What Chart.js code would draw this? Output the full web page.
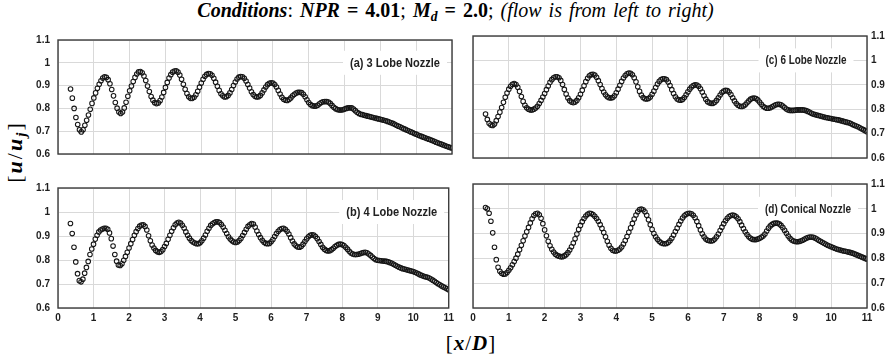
<!DOCTYPE html>
<html>
<head>
<meta charset="utf-8">
<script src="https://cdn.jsdelivr.net/npm/chart.js@4.4.1/dist/chart.umd.min.js"></script>
<style>
  body { margin: 0; width: 890px; height: 356px; background: #fff; position: relative; overflow: hidden; font-family: "Liberation Serif", serif; color: #000; }
  canvas { position: absolute; }
  sub { font-size: 0.68em; vertical-align: -0.3em; line-height: 0; }
  #title { position: absolute; left: 0; width: 911px; top: -1px; text-align: center; font-size: 20px; word-spacing: 2px; white-space: nowrap; }
  #ylab { position: absolute; left: 15px; top: 152px; font-size: 22px; letter-spacing: 2px; white-space: nowrap; transform: translate(-50%, -50%) rotate(-90deg); }
  #xlab { position: absolute; left: 471px; top: 343px; font-size: 21px; letter-spacing: 1px; white-space: nowrap; transform: translate(-50%, -50%); }
</style>
</head>
<body>
<div id="title"><b><i>Conditions</i></b>: <b><i>NPR</i> = 4.01</b>; <b><i>M</i><sub><i>d</i></sub> = 2.0</b>; <i>(flow is from left to right)</i></div>
<div id="ylab">[<b><i>u</i></b>/<b><i>u</i><sub><i>j</i></sub></b>]</div>
<div id="xlab">[<b><i>x</i></b>/<b><i>D</i></b>]</div>

<canvas id="panelA" width="458" height="142" style="left:0px;top:26px"></canvas>
<canvas id="panelC" width="424" height="142" style="left:466px;top:26px"></canvas>
<canvas id="panelB" width="458" height="152" style="left:0px;top:174px"></canvas>
<canvas id="panelD" width="424" height="152" style="left:466px;top:174px"></canvas>

<script>
// axial stations x/D (same for every nozzle)
const xPos = [
  0.35, 0.40, 0.45, 0.50, 0.55, 0.60, 0.65, 0.70, 0.75, 0.80, 0.85, 0.90, 0.95,
  1.00, 1.05, 1.10, 1.15, 1.20, 1.25, 1.30, 1.35, 1.40, 1.45, 1.50, 1.55, 1.60, 1.65, 1.70, 1.75, 1.80, 1.85, 1.90, 1.95,
  2.00, 2.05, 2.10, 2.15, 2.20, 2.25, 2.30, 2.35, 2.40, 2.45, 2.50, 2.55, 2.60, 2.65, 2.70, 2.75, 2.80, 2.85, 2.90, 2.95,
  3.00, 3.05, 3.10, 3.15, 3.20, 3.25, 3.30, 3.35, 3.40, 3.45, 3.50, 3.55, 3.60, 3.65, 3.70, 3.75, 3.80, 3.85, 3.90, 3.95,
  4.00, 4.05, 4.10, 4.15, 4.20, 4.25, 4.30, 4.35, 4.40, 4.45, 4.50, 4.55, 4.60, 4.65, 4.70, 4.75, 4.80, 4.85, 4.90, 4.95,
  5.00, 5.05, 5.10, 5.15, 5.20, 5.25, 5.30, 5.35, 5.40, 5.45, 5.50, 5.55, 5.60, 5.65, 5.70, 5.75, 5.80, 5.85, 5.90, 5.95,
  6.00, 6.05, 6.10, 6.15, 6.20, 6.25, 6.30, 6.35, 6.40, 6.45, 6.50, 6.55, 6.60, 6.65, 6.70, 6.75, 6.80, 6.85, 6.90, 6.95,
  7.00, 7.05, 7.10, 7.15, 7.20, 7.25, 7.30, 7.35, 7.40, 7.45, 7.50, 7.55, 7.60, 7.65, 7.70, 7.75, 7.80, 7.85, 7.90, 7.95,
  8.00, 8.05, 8.10, 8.15, 8.20, 8.25, 8.30, 8.35, 8.40, 8.45, 8.50, 8.55, 8.60, 8.65, 8.70, 8.75, 8.80, 8.85, 8.90, 8.95,
  9.00, 9.05, 9.10, 9.15, 9.20, 9.25, 9.30, 9.35, 9.40, 9.45, 9.50, 9.55, 9.60, 9.65, 9.70, 9.75, 9.80, 9.85, 9.90, 9.95,
  10.00, 10.05, 10.10, 10.15, 10.20, 10.25, 10.30, 10.35, 10.40, 10.45, 10.50, 10.55, 10.60, 10.65, 10.70, 10.75, 10.80, 10.85, 10.90, 10.95,
  11.00
];

// u/uj, one row per x/D unit
const lobe3 = [
  0.885, 0.845, 0.800, 0.760, 0.729, 0.706, 0.697, 0.706, 0.726, 0.748, 0.771, 0.796, 0.822,
  0.846, 0.868, 0.888, 0.906, 0.921, 0.933, 0.939, 0.936, 0.926, 0.908, 0.883, 0.855, 0.826, 0.801, 0.784, 0.778, 0.784, 0.802, 0.827, 0.853,
  0.877, 0.898, 0.918, 0.936, 0.951, 0.960, 0.962, 0.956, 0.942, 0.922, 0.898, 0.874, 0.852, 0.836, 0.825, 0.821, 0.824, 0.834, 0.850, 0.870,
  0.892, 0.914, 0.933, 0.948, 0.959, 0.964, 0.965, 0.959, 0.946, 0.928, 0.906, 0.884, 0.865, 0.851, 0.844, 0.844, 0.849, 0.860, 0.875, 0.893,
  0.911, 0.928, 0.941, 0.949, 0.953, 0.952, 0.945, 0.932, 0.915, 0.897, 0.879, 0.864, 0.855, 0.850, 0.851, 0.857, 0.868, 0.883, 0.900, 0.916,
  0.929, 0.937, 0.940, 0.939, 0.932, 0.920, 0.905, 0.889, 0.873, 0.861, 0.853, 0.850, 0.851, 0.857, 0.868, 0.881, 0.894, 0.904, 0.910, 0.912,
  0.911, 0.905, 0.894, 0.879, 0.863, 0.849, 0.840, 0.836, 0.835, 0.839, 0.846, 0.855, 0.862, 0.867, 0.870, 0.871, 0.869, 0.862, 0.851, 0.838,
  0.826, 0.817, 0.812, 0.810, 0.810, 0.814, 0.820, 0.826, 0.829, 0.830, 0.830, 0.828, 0.822, 0.813, 0.805, 0.799, 0.795, 0.793, 0.793, 0.794,
  0.797, 0.800, 0.802, 0.803, 0.802, 0.797, 0.790, 0.783, 0.778, 0.774, 0.773, 0.770, 0.768, 0.766, 0.764, 0.762, 0.760, 0.758, 0.756, 0.754,
  0.752, 0.750, 0.748, 0.746, 0.743, 0.740, 0.737, 0.734, 0.730, 0.726, 0.722, 0.719, 0.715, 0.711, 0.708, 0.704, 0.701, 0.697, 0.694, 0.690,
  0.687, 0.683, 0.680, 0.677, 0.674, 0.671, 0.668, 0.665, 0.662, 0.659, 0.656, 0.652, 0.649, 0.646, 0.643, 0.640, 0.637, 0.634, 0.631, 0.628,
  0.626
];

const lobe4 = [
  0.952, 0.910, 0.853, 0.792, 0.743, 0.714, 0.709, 0.720, 0.745, 0.769, 0.794, 0.823, 0.846,
  0.866, 0.887, 0.903, 0.917, 0.925, 0.929, 0.932, 0.932, 0.928, 0.913, 0.889, 0.858, 0.823, 0.795, 0.779, 0.777, 0.784, 0.799, 0.815, 0.832,
  0.850, 0.868, 0.885, 0.903, 0.918, 0.931, 0.941, 0.946, 0.947, 0.940, 0.925, 0.901, 0.880, 0.862, 0.850, 0.840, 0.834, 0.832, 0.835, 0.843,
  0.856, 0.869, 0.886, 0.903, 0.920, 0.934, 0.947, 0.954, 0.957, 0.954, 0.945, 0.933, 0.917, 0.903, 0.891, 0.881, 0.875, 0.871, 0.868, 0.868,
  0.872, 0.880, 0.891, 0.904, 0.920, 0.932, 0.944, 0.951, 0.956, 0.959, 0.959, 0.956, 0.948, 0.937, 0.924, 0.910, 0.897, 0.887, 0.880, 0.875,
  0.873, 0.875, 0.881, 0.890, 0.902, 0.915, 0.928, 0.940, 0.947, 0.952, 0.950, 0.937, 0.921, 0.906, 0.893, 0.882, 0.874, 0.869, 0.868, 0.869,
  0.876, 0.885, 0.898, 0.910, 0.920, 0.927, 0.931, 0.932, 0.928, 0.920, 0.908, 0.893, 0.879, 0.867, 0.859, 0.854, 0.853, 0.857, 0.866, 0.877,
  0.888, 0.897, 0.903, 0.905, 0.904, 0.898, 0.889, 0.877, 0.865, 0.853, 0.845, 0.840, 0.838, 0.839, 0.843, 0.849, 0.856, 0.861, 0.865, 0.866,
  0.864, 0.860, 0.853, 0.845, 0.836, 0.829, 0.825, 0.823, 0.823, 0.824, 0.826, 0.829, 0.831, 0.832, 0.830, 0.825, 0.819, 0.812, 0.806, 0.801,
  0.799, 0.798, 0.797, 0.796, 0.795, 0.794, 0.792, 0.789, 0.786, 0.782, 0.778, 0.774, 0.770, 0.767, 0.764, 0.762, 0.760, 0.758, 0.756, 0.754,
  0.752, 0.749, 0.746, 0.742, 0.738, 0.735, 0.732, 0.730, 0.728, 0.725, 0.721, 0.716, 0.711, 0.706, 0.701, 0.697, 0.692, 0.688, 0.684, 0.680,
  0.676
];

const lobe6 = [
  0.780, 0.758, 0.742, 0.735, 0.733, 0.739, 0.753, 0.770, 0.788, 0.807, 0.828, 0.849, 0.866,
  0.882, 0.894, 0.902, 0.905, 0.901, 0.890, 0.873, 0.852, 0.832, 0.816, 0.806, 0.800, 0.797, 0.797, 0.800, 0.805, 0.812, 0.823, 0.836, 0.850,
  0.864, 0.880, 0.895, 0.910, 0.921, 0.929, 0.933, 0.933, 0.929, 0.918, 0.901, 0.881, 0.862, 0.846, 0.835, 0.829, 0.827, 0.829, 0.836, 0.847,
  0.861, 0.878, 0.896, 0.913, 0.927, 0.937, 0.942, 0.943, 0.940, 0.931, 0.917, 0.901, 0.885, 0.870, 0.859, 0.851, 0.847, 0.846, 0.848, 0.855,
  0.867, 0.882, 0.898, 0.914, 0.928, 0.938, 0.945, 0.948, 0.947, 0.941, 0.929, 0.912, 0.892, 0.873, 0.858, 0.848, 0.843, 0.842, 0.844, 0.850,
  0.861, 0.874, 0.889, 0.903, 0.914, 0.921, 0.925, 0.925, 0.921, 0.911, 0.897, 0.880, 0.864, 0.851, 0.842, 0.838, 0.837, 0.840, 0.848, 0.859,
  0.871, 0.882, 0.891, 0.897, 0.900, 0.899, 0.894, 0.884, 0.870, 0.855, 0.841, 0.831, 0.826, 0.824, 0.824, 0.828, 0.836, 0.847, 0.858, 0.868,
  0.874, 0.877, 0.876, 0.870, 0.860, 0.847, 0.834, 0.823, 0.816, 0.812, 0.811, 0.813, 0.818, 0.826, 0.834, 0.841, 0.845, 0.846, 0.844, 0.838,
  0.829, 0.820, 0.812, 0.807, 0.804, 0.804, 0.806, 0.810, 0.814, 0.818, 0.820, 0.820, 0.818, 0.813, 0.807, 0.801, 0.797, 0.795, 0.795, 0.795,
  0.796, 0.797, 0.797, 0.797, 0.797, 0.796, 0.794, 0.791, 0.787, 0.783, 0.780, 0.778, 0.776, 0.774, 0.772, 0.770, 0.768, 0.766, 0.765, 0.763,
  0.762, 0.760, 0.759, 0.757, 0.756, 0.754, 0.752, 0.750, 0.748, 0.746, 0.744, 0.741, 0.737, 0.734, 0.731, 0.728, 0.724, 0.720, 0.716, 0.712,
  0.708
];

const conical = [
  1.005, 1.000, 0.982, 0.950, 0.903, 0.845, 0.795, 0.764, 0.748, 0.740, 0.736, 0.737, 0.743,
  0.752, 0.762, 0.774, 0.787, 0.801, 0.817, 0.835, 0.853, 0.871, 0.890, 0.907, 0.925, 0.943, 0.960, 0.973, 0.980, 0.982, 0.976, 0.962, 0.940,
  0.915, 0.891, 0.869, 0.851, 0.837, 0.826, 0.817, 0.812, 0.809, 0.807, 0.807, 0.810, 0.815, 0.823, 0.834, 0.847, 0.862, 0.879, 0.898, 0.917,
  0.933, 0.948, 0.961, 0.971, 0.978, 0.982, 0.981, 0.977, 0.970, 0.961, 0.950, 0.936, 0.921, 0.904, 0.887, 0.869, 0.853, 0.841, 0.833, 0.830,
  0.830, 0.833, 0.838, 0.846, 0.858, 0.872, 0.888, 0.905, 0.923, 0.941, 0.959, 0.975, 0.988, 0.997, 0.999, 0.996, 0.988, 0.974, 0.956, 0.936,
  0.917, 0.900, 0.887, 0.877, 0.869, 0.863, 0.860, 0.859, 0.860, 0.864, 0.871, 0.881, 0.894, 0.908, 0.922, 0.937, 0.951, 0.963, 0.972, 0.978,
  0.981, 0.982, 0.980, 0.974, 0.964, 0.949, 0.932, 0.915, 0.899, 0.887, 0.878, 0.873, 0.871, 0.870, 0.872, 0.878, 0.887, 0.898, 0.912, 0.926,
  0.940, 0.952, 0.962, 0.969, 0.973, 0.975, 0.973, 0.968, 0.960, 0.948, 0.934, 0.920, 0.907, 0.896, 0.887, 0.881, 0.877, 0.876, 0.876, 0.878,
  0.881, 0.885, 0.890, 0.898, 0.910, 0.922, 0.931, 0.937, 0.941, 0.942, 0.942, 0.939, 0.933, 0.924, 0.913, 0.901, 0.890, 0.881, 0.874, 0.870,
  0.868, 0.867, 0.868, 0.870, 0.873, 0.877, 0.881, 0.884, 0.886, 0.886, 0.885, 0.882, 0.878, 0.873, 0.869, 0.865, 0.861, 0.857, 0.853, 0.850,
  0.847, 0.844, 0.841, 0.838, 0.836, 0.834, 0.832, 0.830, 0.829, 0.827, 0.825, 0.823, 0.821, 0.818, 0.815, 0.812, 0.809, 0.806, 0.803, 0.800,
  0.797
];

const xTickVals = [0, 1, 2, 3, 4, 5, 6, 7, 8, 9, 10, 11];
const xTickLabels = ['0', '1', '2', '3', '4', '5', '6', '7', '8', '9', '10', '11'];
const yTickVals = [0.6, 0.7, 0.8, 0.9, 1.0, 1.1];
const yTickLabels = ['0.6', '0.7', '0.8', '0.9', '1', '1.1'];

const tickFont = { family: '"Liberation Sans", Arial, sans-serif', size: 10, weight: 'bold' };

// white caption box + dark frame round the plot area
const panelFrame = {
  id: 'panelFrame',
  beforeDatasetsDraw(chart, args, o) {
    const ctx = chart.ctx, a = chart.chartArea;
    const cy = chart.scales.y.getPixelForValue(1.0);
    const cx = a.right - o.shift;
    ctx.save();
    ctx.fillStyle = '#fff';
    ctx.fillRect(cx - o.width / 2 - 7, cy - 12, o.width + 14, 24);
    ctx.font = 'bold 13px "Liberation Sans", Arial, sans-serif';
    const w = ctx.measureText(o.text).width;
    ctx.translate(cx, cy + 0.5);
    ctx.scale(o.width / w, 1);
    ctx.fillStyle = '#222';
    ctx.textAlign = 'center';
    ctx.textBaseline = 'middle';
    ctx.fillText(o.text, 0, 0);
    ctx.restore();
  },
  afterDraw(chart) {
    const ctx = chart.ctx, a = chart.chartArea;
    ctx.save();
    ctx.strokeStyle = '#3c3c3c';
    ctx.lineWidth = 1.4;
    ctx.strokeRect(a.left, a.top, a.right - a.left, a.bottom - a.top);
    ctx.restore();
  }
};

function makePanel(id, ys, p) {
  new Chart(document.getElementById(id), {
    type: 'scatter',
    data: {
      datasets: [{
        data: xPos.map((x, i) => ({ x: x, y: ys[i] })),
        pointStyle: 'circle',
        pointRadius: 2.3,
        pointBorderWidth: 1.05,
        pointBorderColor: '#161616',
        pointBackgroundColor: 'rgba(0,0,0,0)'
      }]
    },
    options: {
      responsive: false,
      animation: false,
      events: [],
      layout: { padding: { left: p.padLeft, right: p.padRight, top: 8, bottom: 0 } },
      plugins: {
        legend: { display: false },
        tooltip: { enabled: false },
        panelFrame: { text: p.label, shift: p.shift, width: p.textWidth }
      },
      scales: {
        x: {
          type: 'linear', min: 0, max: 11,
          afterBuildTicks: s => { s.ticks = xTickVals.map(v => ({ value: v })); },
          afterFit: s => { s.height = p.bottomH; },
          ticks: { display: p.showX, padding: 4, color: '#1e1e1e', font: tickFont, maxRotation: 0,
                   callback: (v, i) => xTickLabels[i] },
          grid: { color: '#d9d9d9', lineWidth: 1, drawTicks: false },
          border: { display: false }
        },
        y: {
          type: 'linear', min: 0.6, max: 1.1, position: p.side,
          afterBuildTicks: s => { s.ticks = yTickVals.map(v => ({ value: v })); },
          afterFit: s => { s.width = p.axisW; },
          ticks: { padding: p.side === 'left' ? 8 : 4, color: '#1e1e1e', font: tickFont,
                   callback: (v, i) => yTickLabels[i] },
          grid: { color: '#d9d9d9', lineWidth: 1, drawTicks: false },
          border: { display: false }
        }
      }
    },
    plugins: [panelFrame]
  });
}

makePanel('panelA', lobe3, { side: 'left', axisW: 58, padLeft: 0, padRight: 6, showX: false, bottomH: 7,
  label: '(a) 3 Lobe Nozzle', shift: 57, textWidth: 90 });
makePanel('panelC', lobe6, { side: 'right', axisW: 23, padLeft: 7, padRight: 0, showX: false, bottomH: 7,
  label: '(c) 6 Lobe Nozzle', shift: 61, textWidth: 81 });
makePanel('panelB', lobe4, { side: 'left', axisW: 58, padLeft: 0, padRight: 6, showX: true, bottomH: 18,
  label: '(b) 4 Lobe Nozzle', shift: 57, textWidth: 91 });
makePanel('panelD', conical, { side: 'right', axisW: 23, padLeft: 7, padRight: 0, showX: true, bottomH: 18,
  label: '(d) Conical Nozzle', shift: 59, textWidth: 86 });
</script>
</body>
</html>
